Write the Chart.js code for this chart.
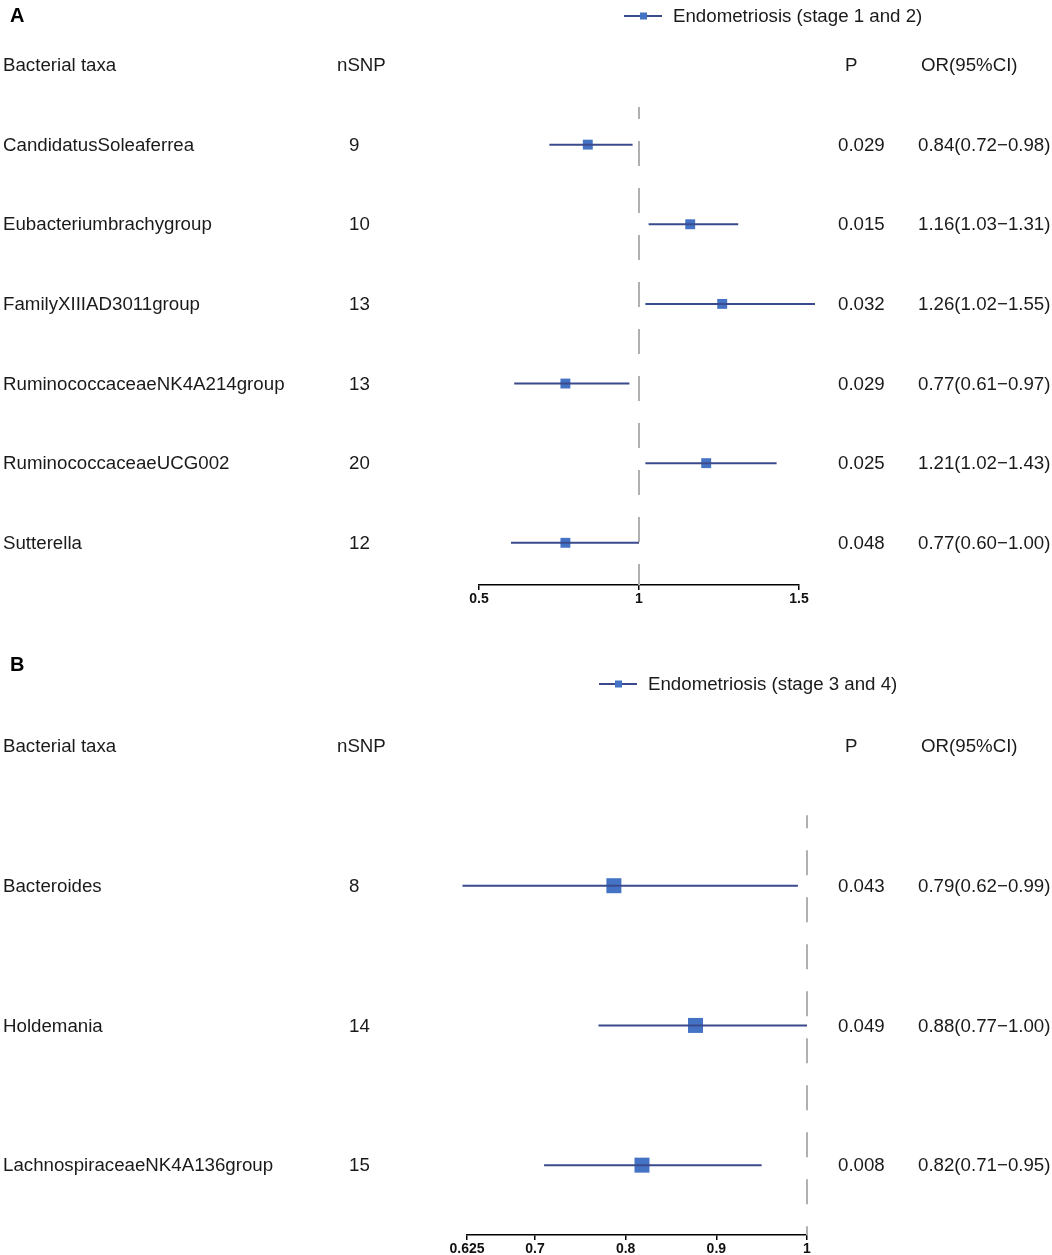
<!DOCTYPE html>
<html>
<head>
<meta charset="utf-8">
<script src="https://cdn.jsdelivr.net/npm/chart.js@4.4.1/dist/chart.umd.min.js"></script>
<style>
  body { margin: 0; background: #fff; width: 1052px; height: 1255px; overflow: hidden; position: relative; }
  .panel { position: absolute; left: 0; width: 1052px; }
  #wrapA { top: 0; height: 630px; }
  #wrapB { top: 625px; height: 640px; }
</style>
</head>
<body>
<div class="panel" id="wrapA"><canvas id="chartA"></canvas></div>
<div class="panel" id="wrapB"><canvas id="chartB"></canvas></div>
<script>
// Panel A: stage 1 and 2
const taxaA = ['CandidatusSoleaferrea', 'Eubacteriumbrachygroup', 'FamilyXIIIAD3011group',
  'RuminococcaceaeNK4A214group', 'RuminococcaceaeUCG002', 'Sutterella'];
const nsnpA = [9, 10, 13, 13, 20, 12];
const pA = ['0.029', '0.015', '0.032', '0.029', '0.025', '0.048'];
const orA = [0.84, 1.16, 1.26, 0.77, 1.21, 0.77];
const loA = [0.72, 1.03, 1.02, 0.61, 1.02, 0.60];
const hiA = [0.98, 1.31, 1.55, 0.97, 1.43, 1.00];
const ticksA = [0.5, 1, 1.5];

// Panel B: stage 3 and 4
const taxaB = ['Bacteroides', 'Holdemania', 'LachnospiraceaeNK4A136group'];
const nsnpB = [8, 14, 15];
const pB = ['0.043', '0.049', '0.008'];
const orB = [0.787, 0.877, 0.818];
const loB = [0.62, 0.77, 0.71];
const hiB = [0.99, 1.00, 0.95];
const ticksB = [0.625, 0.7, 0.8, 0.9, 1];

const LINE = '#3b4a8c';
const BOX = '#4472c4';
const TEXT = '#1a1a1a';
const FONT = '"Liberation Sans", Arial, sans-serif';

function orLabel(o, l, h) {
  return o.toFixed(2) + '(' + l.toFixed(2) + '\u2212' + h.toFixed(2) + ')';
}

function makeForest(id, cfg) {
  const n = cfg.taxa.length;
  const datasets = [];
  for (let i = 0; i < n; i++) {
    datasets.push({
      type: 'line',
      data: [{ x: cfg.lo[i], y: i + 1 }, { x: cfg.hi[i], y: i + 1 }],
      borderColor: LINE,
      borderWidth: 2,
      pointRadius: 0,
      clip: false
    });
  }
  datasets.push({
    type: 'scatter',
    label: cfg.legend,
    data: cfg.or.map((v, i) => ({ x: v, y: i + 1 })),
    pointStyle: 'rect',
    pointRadius: cfg.boxRadius,
    backgroundColor: BOX,
    borderColor: BOX,
    borderWidth: 0,
    clip: false
  });

  const textPlugin = {
    id: 'forestText',
    beforeDatasetsDraw(chart) {
      const { ctx, scales: { x, y }, chartArea } = chart;
      const px = x.getPixelForValue(1);
      ctx.save();
      ctx.strokeStyle = '#b0b0b0';
      ctx.lineWidth = 2;
      ctx.setLineDash([25, 22]);
      ctx.lineDashOffset = cfg.dashOffset;
      ctx.beginPath();
      ctx.moveTo(px, y.getPixelForValue(cfg.dashTop));
      ctx.lineTo(px, chartArea.bottom);
      ctx.stroke();
      ctx.restore();
    },
    afterDraw(chart) {
      const { ctx, scales: { y } } = chart;
      ctx.save();
      ctx.textBaseline = 'middle';
      ctx.textAlign = 'left';

      ctx.font = 'bold 20px ' + FONT;
      ctx.fillStyle = '#000';
      ctx.fillText(cfg.letter, 10, cfg.letterY);

      ctx.font = '18.7px ' + FONT;
      // legend
      const lx = cfg.legendX, ly = cfg.legendY;
      ctx.strokeStyle = LINE;
      ctx.lineWidth = 2;
      ctx.beginPath();
      ctx.moveTo(lx, ly);
      ctx.lineTo(lx + 38, ly);
      ctx.stroke();
      ctx.fillStyle = BOX;
      ctx.fillRect(lx + 16, ly - 3.5, 7, 7);
      ctx.fillStyle = TEXT;
      ctx.fillText(cfg.legend, lx + 49, ly + 1);

      // header row
      const hy = y.getPixelForValue(0) + 1;
      ctx.fillText('Bacterial taxa', 3, hy);
      ctx.fillText('nSNP', 337, hy);
      ctx.fillText('P', 845, hy);
      ctx.fillText('OR(95%CI)', 921, hy);

      for (let i = 0; i < n; i++) {
        const ry = y.getPixelForValue(i + 1) + 1;
        ctx.fillText(cfg.taxa[i], 3, ry);
        ctx.fillText(String(cfg.nsnp[i]), 349, ry);
        ctx.fillText(cfg.p[i], 838, ry);
        ctx.fillText(orLabel(cfg.or[i], cfg.lo[i], cfg.hi[i]), 918, ry);
      }
      ctx.restore();
    }
  };

  return new Chart(document.getElementById(id), {
    data: { datasets: datasets },
    options: {
      responsive: true,
      maintainAspectRatio: false,
      animation: false,
      layout: { padding: cfg.padding },
      plugins: { legend: { display: false }, tooltip: { enabled: false } },
      scales: {
        x: {
          type: 'linear',
          min: cfg.ticks[0],
          max: cfg.ticks[cfg.ticks.length - 1],
          afterBuildTicks(scale) { scale.ticks = cfg.ticks.map(v => ({ value: v })); },
          afterFit(scale) { scale.height = cfg.axisHeight; },
          ticks: {
            callback: v => String(v),
            color: '#111',
            padding: 1,
            maxRotation: 0,
            autoSkip: false,
            font: { family: FONT, size: 14, weight: 'bold' }
          },
          grid: { display: true, drawOnChartArea: false, drawTicks: true, tickLength: 5, color: '#000', lineWidth: 1.5 },
          border: { display: true, color: '#000', width: 1.5 }
        },
        y: {
          type: 'linear',
          reverse: true,
          min: 0,
          max: cfg.yMax,
          display: false
        }
      }
    },
    plugins: [textPlugin]
  });
}

makeForest('chartA', {
  taxa: taxaA, nsnp: nsnpA, p: pA, or: orA, lo: loA, hi: hiA, ticks: ticksA,
  legend: 'Endometriosis (stage 1 and 2)', letter: 'A',
  letterY: 16, legendX: 624, legendY: 16,
  boxRadius: 7, yMax: 6.53, dashTop: 0.527, dashOffset: 13, axisHeight: 30,
  padding: { left: 479, right: 253, top: 65, bottom: 15 }
});

makeForest('chartB', {
  taxa: taxaB, nsnp: nsnpB, p: pB, or: orB, lo: loB, hi: hiB, ticks: ticksB,
  legend: 'Endometriosis (stage 3 and 4)', letter: 'B',
  letterY: 40, legendX: 599, legendY: 59,
  boxRadius: 10.6, yMax: 3.5, dashTop: 0.495, dashOffset: 12, axisHeight: 30,
  padding: { left: 467, right: 245, top: 121, bottom: 0 }
});
</script>
</body>
</html>
